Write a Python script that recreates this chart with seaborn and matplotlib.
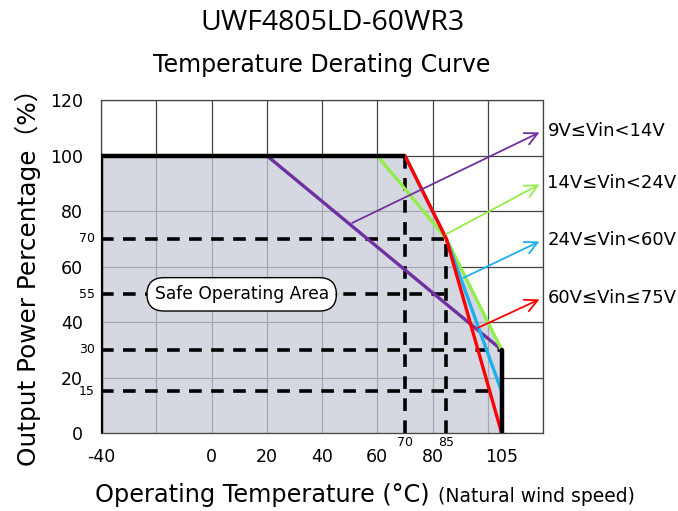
import matplotlib
matplotlib.use("Agg")
import matplotlib.pyplot as plt
import seaborn as sns
import pandas as pd

# ---------------- data ----------------
title = "UWF4805LD-60WR3"
subtitle = "Temperature Derating Curve"
series_names = ["9V≤Vin<14V", "14V≤Vin<24V", "24V≤Vin<60V", "60V≤Vin≤75V"]
series_colors = ["#7030a0", "#92ee4a", "#1eb0ee", "#ff0000"]

purple_t = [20, 105]
purple_p = [100, 30]
green_t = [60, 85, 105]
green_p = [100, 70, 30]
blue_t = [70, 85, 105]
blue_p = [100, 70, 15]
red_t = [70, 85, 105]
red_p = [100, 70, 0]

flat_t = [-40, 70]
flat_p = [100, 100]
safe_t = [-40, -40, 70, 85, 105, 105]
safe_p = [0, 100, 100, 70, 30, 0]

x_tick_vals = [-40, 0, 20, 40, 60, 80, 105]
x_small_vals = [70, 85]
y_tick_vals = [0, 20, 40, 60, 80, 100, 120]
grid_x = [-40, -20, 0, 20, 40, 60, 80, 100, 120]

ref_y_pos = [70, 50, 30, 15]
ref_y_labels = ["70", "55", "30", "15"]
ref_y_end = [85, 85, 105, 103]
ref_x_pos = [70, 85]
ref_x_top = [100, 70]

arrow_tail_t = [50, 84, 90.3, 95.5]
arrow_tail_p = [75.3, 71.2, 55.5, 37.5]
arrow_head_t = [119.6, 119.6, 119.6, 119.6]
arrow_head_p = [108.8, 90.1, 69.5, 48.6]

# ---------------- figure ----------------
sns.set_style("white")
plt.rcParams['font.family'] = ['DejaVu Sans', 'Noto Sans CJK SC']
plt.rcParams['text.color'] = 'black'
plt.rcParams['axes.labelcolor'] = 'black'
plt.rcParams['xtick.color'] = 'black'
plt.rcParams['ytick.color'] = 'black'

fig = plt.figure(figsize=(6.78, 5.11), dpi=100)
ax = fig.add_axes([0.149, 0.1526, 0.652, 0.6514])
ax.set_xlim(-40, 120)
ax.set_ylim(0, 120)

ax.set_xticks(x_tick_vals)
ax.set_xticklabels([str(v) for v in x_tick_vals], fontsize=12.5)
ax.set_yticks(y_tick_vals)
ax.set_yticklabels([str(v) for v in y_tick_vals], fontsize=12.5)
ax.tick_params(axis='both', which='both', length=0)
ax.tick_params(axis='x', pad=11)
ax.tick_params(axis='y', pad=13)
ax.grid(False)
for gx in grid_x:
    ax.axvline(gx, color="#444444", lw=0.9, zorder=0.5)
for gy in y_tick_vals:
    ax.axhline(gy, color="#444444", lw=0.9, zorder=0.5)
for s in ax.spines.values():
    s.set_color("#444444")
    s.set_linewidth(0.9)

# safe area
ax.fill(safe_t, safe_p, color="#c7cbd6", alpha=0.75, lw=0, zorder=1)

# dashed reference lines
for yv, xe in zip(ref_y_pos, ref_y_end):
    ax.plot([-40, xe], [yv, yv], color="black", lw=2.6, ls=(0, (3.5, 2.6)), zorder=2)
for xv, yt in zip(ref_x_pos, ref_x_top):
    ax.plot([xv, xv], [0, yt], color="black", lw=2.6, ls=(0, (3.5, 2.6)), zorder=2)

# thick outline
ax.plot(flat_t, flat_p, color="black", lw=3.2, zorder=4, solid_capstyle='butt')
ax.plot([-40, -40], [0, 100], color="black", lw=3.2, zorder=4)
ax.plot([105, 105], [0, 30], color="black", lw=3.2, zorder=4)

# derating curves
curves = [(purple_t, purple_p), (green_t, green_p), (blue_t, blue_p), (red_t, red_p)]
for i in range(4):
    t, p = curves[i]
    df = pd.DataFrame({"t": t, "p": p})
    sns.lineplot(data=df, x="t", y="p", sort=False, estimator=None,
                 color=series_colors[i], lw=2.4, ax=ax, zorder=3 + 0.1 * i)

# annotation arrows + labels
for i in range(4):
    ax.annotate("", xy=(arrow_head_t[i], arrow_head_p[i]),
                xytext=(arrow_tail_t[i], arrow_tail_p[i]),
                arrowprops=dict(arrowstyle="->,head_length=0.9,head_width=0.45",
                                color=series_colors[i], lw=1.3),
                annotation_clip=False, zorder=5)
    ax.text(121.6, arrow_head_p[i], series_names[i], fontsize=13,
            ha='left', va='center', clip_on=False)

# safe operating area label
ax.text(10.9, 50, "Safe Operating Area", fontsize=12.3, ha='center', va='center',
        zorder=6,
        bbox=dict(boxstyle="round,pad=0.45,rounding_size=1.0", fc="white", ec="black", lw=1))

# small tick labels
trans_x = ax.get_xaxis_transform()
for xv in x_small_vals:
    ax.text(xv, -0.008, str(xv), transform=trans_x, fontsize=9, ha='center', va='top')
trans_y = ax.get_yaxis_transform()
for yv, lab in zip(ref_y_pos, ref_y_labels):
    ax.text(-0.014, yv, lab, transform=trans_y, fontsize=9, ha='right', va='center')

ax.set_xlabel("")
ax.set_ylabel("")

# titles
fig.text(0.491, 0.955, title, fontsize=20.5, ha='center', va='center',
         family=['Open Sans', 'DejaVu Sans'])
fig.text(0.474, 0.873, subtitle, fontsize=17, ha='center', va='center')

# axis labels
fig.text(0.041, 0.469, "Output Power Percentage（%）", rotation=90, fontsize=17.8,
         ha='center', va='center', family=['DejaVu Sans', 'Noto Sans CJK SC'])
t1 = fig.text(0.140, 0.031, "Operating Temperature (°C)", fontsize=17.3, ha='left', va='center')
fig.canvas.draw()
bb = t1.get_window_extent()
x2 = (bb.x1 + 8) / fig.bbox.width
fig.text(x2, 0.028, "(Natural wind speed)", fontsize=13.5, ha='left', va='center')

fig.savefig("out.png", dpi=100)
